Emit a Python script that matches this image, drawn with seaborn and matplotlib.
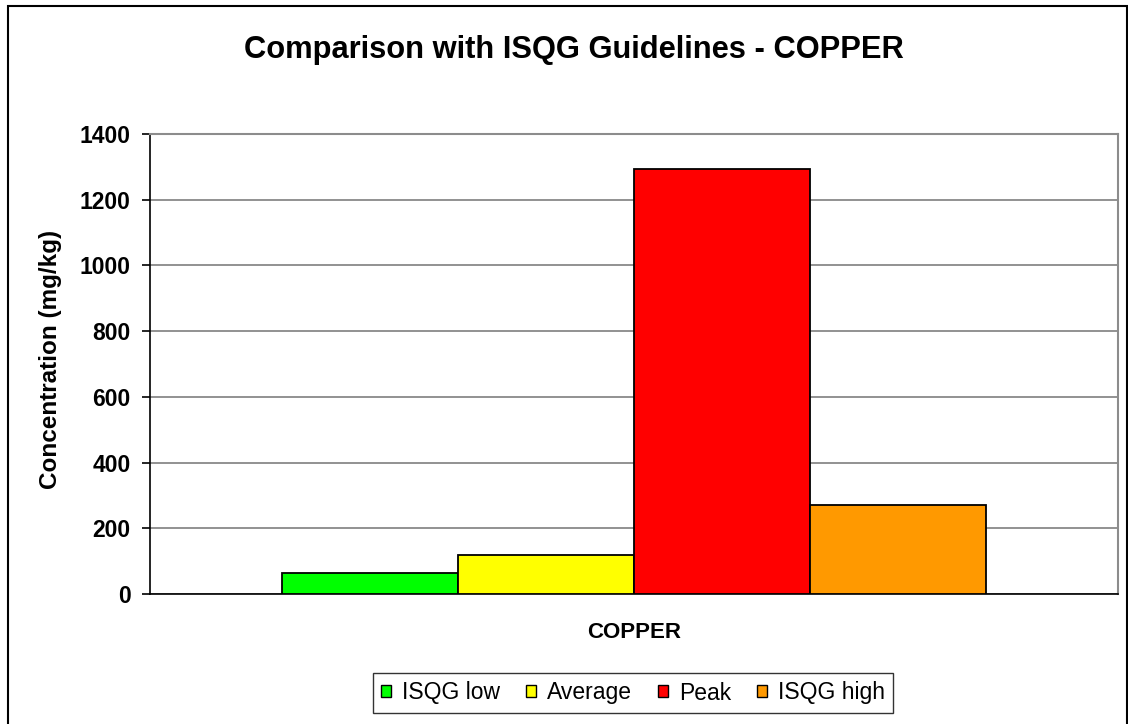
import matplotlib
matplotlib.use("Agg")
import matplotlib.pyplot as plt
import matplotlib.patches as mpatches
import seaborn as sns
import pandas as pd

# data
metal = "COPPER"
series = ["ISQG low", "Average", "Peak", "ISQG high"]
values = [65, 118, 1292, 270]
colors = ["#00FF00", "#FFFF00", "#FF0000", "#FF9900"]
yticks = [0, 200, 400, 600, 800, 1000, 1200, 1400]

df = pd.DataFrame({"metal": [metal] * len(series), "series": series, "value": values})

sns.set_style("white")
plt.rcParams["font.family"] = ["Liberation Sans", "DejaVu Sans"]
plt.rcParams["text.color"] = "black"
plt.rcParams["axes.labelcolor"] = "black"
plt.rcParams["xtick.color"] = "black"
plt.rcParams["ytick.color"] = "black"

W, H = 1128, 724
fig = plt.figure(figsize=(W / 100, H / 100), dpi=100)
ax = fig.add_axes([150 / W, 1 - 594 / H, (1118 - 150) / W, (594 - 134) / H])

sns.barplot(data=df, x="metal", y="value", hue="series", hue_order=series,
            palette=colors, saturation=1, width=0.727, edgecolor="black",
            linewidth=1.3, ax=ax, zorder=3)

ax.set_xlim(-0.5, 0.5)
ax.set_ylim(0, 1400)
ax.set_yticks(yticks)
ax.set_yticklabels([str(t) for t in yticks], fontsize=16.5, fontweight="bold")
ax.yaxis.grid(True, color="#7f7f7f", linewidth=1.2, zorder=0)
ax.set_axisbelow(True)

ax.set_xticks([0])
ax.set_xticklabels([metal], fontsize=16, fontweight="bold")
ax.tick_params(axis="x", length=0, pad=20)
ax.set_xticks([-0.5, 0.5], minor=True)
ax.tick_params(axis="x", which="minor", length=6, width=1.2, direction="out")
ax.tick_params(axis="y", length=6, width=1.2, direction="out", pad=8, left=True)
ax.set_xlabel("")
ax.set_ylabel("Concentration (mg/kg)", fontsize=17.5, fontweight="bold")
ax.yaxis.set_label_coords(-88 / 968, 0.51)

for side in ["left", "bottom"]:
    ax.spines[side].set_color("black")
    ax.spines[side].set_linewidth(1.2)
for side in ["top", "right"]:
    ax.spines[side].set_color("#8c8c8c")
    ax.spines[side].set_linewidth(1.5)

fig.text(574 / W, 1 - 50 / H, "Comparison with ISQG Guidelines - COPPER",
         ha="center", va="center", fontsize=22.2, fontweight="bold")

handles = [mpatches.Patch(facecolor=c, edgecolor="black", linewidth=1.0, label=s)
           for s, c in zip(series, colors)]
ax.legend_.remove()
fig.legend(handles=handles, loc="center", bbox_to_anchor=(633 / W, 1 - 693 / H),
           ncol=4, fontsize=16.5, frameon=True, fancybox=False, edgecolor="black",
           handlelength=0.45, handleheight=0.45, handletextpad=0.5,
           columnspacing=1.1, borderpad=0.35)

# outer chart border
fig.patches.append(mpatches.Rectangle((8 / W, -0.05), (W - 9) / W, 1.05 - 6 / H,
                                      transform=fig.transFigure, fill=False,
                                      edgecolor="black", linewidth=1.5))

fig.savefig("out.png", dpi=100)
